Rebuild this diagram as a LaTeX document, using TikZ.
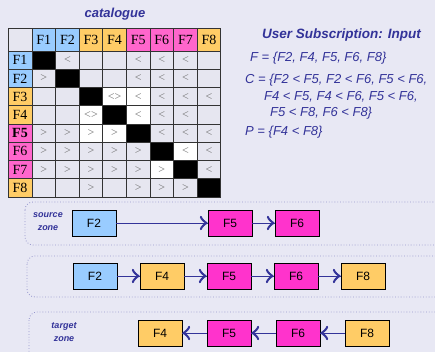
\documentclass[tikz,border=0pt]{standalone}
\usepackage{fontspec}
\setmainfont{Liberation Serif}
\setsansfont{Liberation Sans}
\usepackage{tikz}
\usetikzlibrary{positioning,calc,shadows,decorations.markings}

\definecolor{bgcol}{RGB}{232,232,244}
\definecolor{cellbg}{RGB}{230,230,240}
\definecolor{txtblue}{RGB}{51,51,153}
\definecolor{zoneln}{RGB}{150,150,205}
\definecolor{fblue}{RGB}{153,204,255}
\definecolor{forange}{RGB}{255,204,102}
\definecolor{fmag}{RGB}{255,102,204}
\definecolor{boxmag}{RGB}{255,51,204}

\begin{document}
\begin{tikzpicture}[x=1pt,y=-1pt,
  node distance=67pt,
  cell/.style={draw=black!80,line width=0.9pt,fill=cellbg,inner sep=0pt,
    minimum width=23.6pt,minimum height=18.25pt,text=black!55,
    font=\fontsize{12}{12}\selectfont},
  hd/.style={cell,text=black,font=\fontsize{14}{14}\selectfont},
  bk/.style={fill=black,node contents={}},
  cem/.style={node contents={}},
  clt/.style={node contents={<}},
  cgt/.style={node contents={>}},
  clw/.style={fill=white,node contents={<}},
  cgw/.style={fill=white,node contents={>}},
  cdw/.style={fill=white,node contents={<>}},
  rtxt/.style={text=txtblue,font=\sffamily\itshape\fontsize{13}{13}\selectfont,
    anchor=west,inner sep=0pt},
  zone/.style={draw=zoneln,line width=0.8pt,dotted,rounded corners=8pt},
  zlbl/.style={text=txtblue,align=center,
    font=\sffamily\bfseries\itshape\fontsize{9}{13}\selectfont},
  fbox/.style={draw=black,line width=0.8pt,minimum width=44pt,minimum height=26pt,
    inner sep=0pt,font=\sffamily\fontsize{12}{12}\selectfont,
    drop shadow={shadow xshift=1.2pt,shadow yshift=-1.2pt,fill=black!45,opacity=1}},
  arr/.style={draw=txtblue,line width=0.9pt,
    decoration={markings,mark=at position 1 with {\arrow[scale=2.8,txtblue]{to}}},
    postaction={decorate}}]
\path[use as bounding box,fill=bgcol] (0,0) rectangle (435,352);
\clip (0,0) rectangle (435,352);
%\draw[help lines,step=10,dashed] (0,0) grid (435,352);

\node[text=txtblue,font=\sffamily\bfseries\itshape\fontsize{13}{13}\selectfont]
  (cat) at (115,14) {catalogue};

\node[hd,minimum width=24pt,minimum height=23pt] (corner) at (20,39.5) {};
\foreach \f/\fc/\fs [count=\i] in {F1/fblue/\mdseries,F2/fblue/\mdseries,
    F3/forange/\mdseries,F4/forange/\mdseries,F5/fmag/\bfseries,
    F6/fmag/\mdseries,F7/fmag/\mdseries,F8/forange/\mdseries}{
  \node[hd,fill=\fc,minimum height=23pt] (col\i) at ({32+(\i-0.5)*23.6},39.5) {\f};
  \node[hd,fill=\fc,minimum width=24pt] (row\i) at (20,{51+(\i-0.5)*18.25}) {\fs\f};
}
\foreach \row [count=\r] in {
    {bk,clt,cem,cem,clt,clt,clt,cem},
    {cgt,bk,cem,cem,clt,clt,clt,cem},
    {cem,cem,bk,cdw,clw,clt,clt,clt},
    {cem,cem,cdw,bk,clw,clt,clt,cem},
    {cgt,cgt,cgw,cgw,bk,clt,clt,clt},
    {cgt,cgt,cgt,cgt,cgt,bk,clw,clt},
    {cgt,cgt,cgt,cgt,cgt,cgw,bk,clt},
    {cem,cem,cgt,cem,cgt,cgt,cgt,bk}}{
  \foreach \v [count=\c] in \row
    \node[cell,\v,name=c\r\c,at={({32+(\c-0.5)*23.6},{51+(\r-0.5)*18.25})}];
}

\node[rtxt,font=\sffamily\bfseries\itshape\fontsize{13.5}{13.5}\selectfont]
  (subs) at (262,35) {User Subscription: Input};
\node[rtxt] (setF) at (250,58) {F = \{F2, F4, F5, F6, F8\}};
\node[rtxt] (setCa) at (245,80) {C = \{F2 < F5, F2 < F6, F5 < F6,};
\node[rtxt] (setCb) at (264,97) {F4 < F5, F4 < F6, F5 < F6,};
\node[rtxt] (setCc) at (270,113) {F5 < F8, F6 < F8\}};
\node[rtxt] (setP) at (245,132) {P = \{F4 < F8\}};

\draw[zone] (25,202) rectangle (460,245);
\draw[zone] (27,256) rectangle (460,297);
\draw[zone] (29,312) rectangle (460,372);

\node[zlbl] (srczone) at (48,222) {source\\zone};
\node[fbox,fill=fblue] (src2) at (94,223) {F2};
\node[fbox,fill=boxmag] (src5) at (230,223) {F5};
\node[fbox,fill=boxmag,right of=src5] (src6) {F6};
\draw[arr] (src2) -- (src5);
\draw[arr] (src5) -- (src6);

\node[fbox,fill=fblue] (mid2) at (95,276) {F2};
\node[fbox,fill=forange,right of=mid2] (mid4) {F4};
\node[fbox,fill=boxmag,right of=mid4] (mid5) {F5};
\node[fbox,fill=boxmag,right of=mid5] (mid6) {F6};
\node[fbox,fill=forange,right of=mid6] (mid8) {F8};
\draw[arr] (mid2) -- (mid4);
\draw[arr] (mid4) -- (mid5);
\draw[arr] (mid5) -- (mid6);
\draw[arr] (mid6) -- (mid8);

\node[zlbl] (tgtzone) at (64,332) {target\\zone};
\node[fbox,fill=forange] (tgt4) at (160,333) {F4};
\node[fbox,fill=boxmag,right of=tgt4,node distance=69pt] (tgt5) {F5};
\node[fbox,fill=boxmag,right of=tgt5,node distance=69pt] (tgt6) {F6};
\node[fbox,fill=forange,right of=tgt6,node distance=69pt] (tgt8) {F8};
\draw[arr] (tgt8) -- (tgt6);
\draw[arr] (tgt6) -- (tgt5);
\draw[arr] (tgt5) -- (tgt4);
\end{tikzpicture}
\end{document}
